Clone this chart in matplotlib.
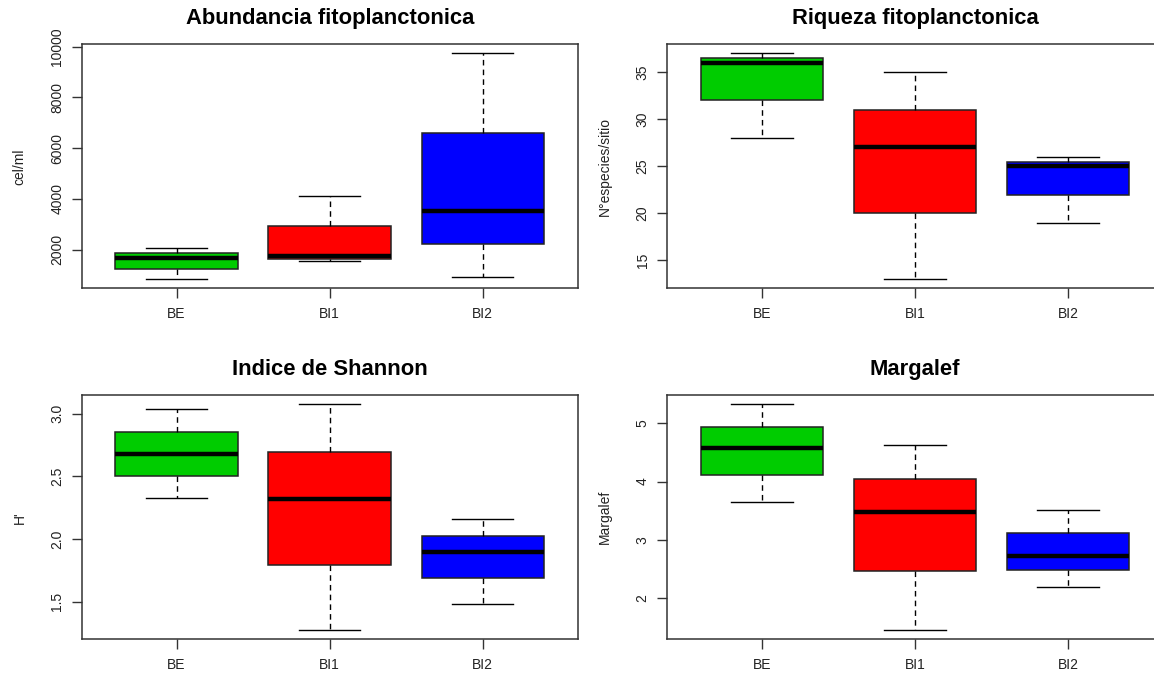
import matplotlib
matplotlib.use('Agg')
from matplotlib import pyplot as plt

plt.rcParams['font.family'] = ['Liberation Sans', 'DejaVu Sans']

sitios = ['BE', 'BI1', 'BI2']
colores = ['#00cc00', '#ff0000', '#0000ff']

# five-number summaries per site: lower whisker, Q1, median, Q3, upper whisker
abundancia = [[835, 1241, 1686, 1856, 2079],
              [1555, 1646, 1764, 2917, 4135],
              [926, 2209, 3506, 6609, 9740]]
riqueza = [[28, 32, 36, 36.5, 37],
           [13, 20, 27, 31, 35],
           [19, 22, 25, 25.5, 26]]
shannon = [[2.327, 2.507, 2.677, 2.857, 3.037],
           [1.274, 1.793, 2.319, 2.693, 3.074],
           [1.481, 1.687, 1.897, 2.027, 2.162]]
margalef = [[3.644, 4.105, 4.575, 4.937, 5.327],
            [1.447, 2.462, 3.472, 4.052, 4.637],
            [2.195, 2.48, 2.73, 3.12, 3.507]]

paneles = [
    ('Abundancia fitoplanctonica', 'cel/ml', abundancia,
     [2000, 4000, 6000, 8000, 10000], ['2000', '4000', '6000', '8000', '10000']),
    ('Riqueza fitoplanctonica', 'N°especies/sitio', riqueza,
     [15, 20, 25, 30, 35], ['15', '20', '25', '30', '35']),
    ('Indice de Shannon', "H'", shannon,
     [1.5, 2.0, 2.5, 3.0], ['1.5', '2.0', '2.5', '3.0']),
    ('Margalef', 'Margalef', margalef,
     [2, 3, 4, 5], ['2', '3', '4', '5']),
]

W, H = 1154, 677
fig = plt.figure(figsize=(W / 100, H / 100), dpi=100)

# frame positions in pixels: left, top
origenes = [(81.7, 44.3), (667, 44.3), (81.7, 395.3), (667, 395.3)]
ancho, alto = 496, 244

marco = '#333333'
for (titulo, ylab, datos, yticks, ylabels), (x0, y0) in zip(paneles, origenes):
    ax = fig.add_axes([x0 / W, (H - y0 - alto) / H, ancho / W, alto / H])
    stats = []
    for nombre, d in zip(sitios, datos):
        stats.append(dict(whislo=d[0], q1=d[1], med=d[2], q3=d[3], whishi=d[4],
                          label=nombre, fliers=[]))
    bp = ax.bxp(stats, positions=[1, 2, 3], widths=0.8, capwidths=0.4,
                patch_artist=True, showfliers=False,
                boxprops=dict(edgecolor='#222222', linewidth=1.1),
                medianprops=dict(color='black', linewidth=3.2, solid_capstyle='butt'),
                whiskerprops=dict(color='black', linewidth=1.0, linestyle=(0, (4, 3))),
                capprops=dict(color='black', linewidth=1.0))
    for caja, c in zip(bp['boxes'], colores):
        caja.set_facecolor(c)

    lo = min(d[0] for d in datos)
    hi = max(d[4] for d in datos)
    r = hi - lo
    ax.set_ylim(lo - 0.04 * r, hi + 0.04 * r)
    ax.set_xlim(0.5 - 0.12, 3.5 + 0.12)
    ax.set_yticks(yticks)
    ax.set_yticklabels(ylabels, rotation=90, va='center')
    ax.tick_params(axis='both', direction='out', length=7, width=1.0,
                   color=marco, labelsize=10, labelcolor='#222222')
    ax.tick_params(axis='y', pad=5.5)
    ax.tick_params(axis='x', pad=6.5)
    for s in ax.spines.values():
        s.set_color(marco)
        s.set_linewidth(1.1)
    ax.set_ylabel(ylab, fontsize=10, color='#222222')
    ax.yaxis.set_label_coords(-55 / ancho, 0.5)
    ax.text(0.5, 1 + 26 / alto, titulo, transform=ax.transAxes, ha='center', va='center',
            fontsize=15.8, fontweight='bold')

fig.savefig('out.png', dpi=100)
